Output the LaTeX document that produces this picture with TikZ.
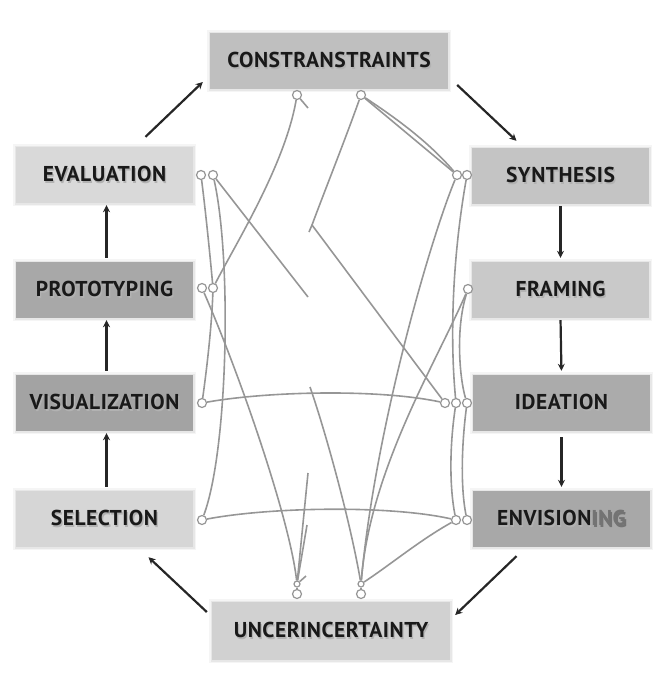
\documentclass[tikz,border=0pt]{standalone}
\usepackage{fontspec}
\setmainfont{PT Sans}
\usetikzlibrary{arrows.meta,backgrounds}
\definecolor{lnk}{HTML}{969696}
\newcommand\ghost[1]{\makebox[0pt][l]{\hspace{1.3pt}\raisebox{-1.3pt}{\color{black!30}#1}}#1}
\begin{document}
\begin{tikzpicture}[x=1pt,y=-1pt,
  box/.style={minimum height=56pt, inner sep=0pt,
    font=\fontsize{21.5}{24}\selectfont\bfseries\addfontfeature{LetterSpace=2.5}, text=black!90,
    preaction={draw=black, line width=6pt, opacity=.04},
    preaction={draw=black, line width=3pt, opacity=.06}},
  lbox/.style={box, minimum width=177pt},
  wbox/.style={box, minimum width=238pt},
  dot/.style={circle, draw=lnk, fill=white, line width=1.2pt, inner sep=0pt, minimum size=9pt},
  sdot/.style={dot, minimum size=6pt},
  lk/.style={draw=lnk, line width=1.6pt},
  arr/.style={draw=black!85, line width=2.2pt, -{Stealth[length=7pt,width=7pt]}}]
\useasboundingbox (0,0) rectangle (663,686);

% boxes
\node[wbox, fill=black!25] (Cons) at (329,61) {\ghost{CONSTRANSTRAINTS}};
\node[wbox, fill=black!18, minimum height=58pt] (Unc) at (331,631) {\ghost{UNCERINCERTAINTY}};
\node[lbox, fill=black!15] (Eval) at (104.5,175) {\ghost{EVALUATION}};
\node[lbox, fill=black!34] (Prot) at (104.5,290) {\ghost{PROTOTYPING}};
\node[lbox, fill=black!36] (Visu) at (104.5,403) {\ghost{VISUALIZATION}};
\node[lbox, fill=black!16] (Sele) at (104.5,519) {\ghost{SELECTION}};
\node[lbox, fill=black!23] (Synt) at (560.5,176) {\ghost{SYNTHESIS}};
\node[lbox, fill=black!21] (Fram) at (560.5,290) {\ghost{FRAMING}};
\node[lbox, fill=black!33] (Idea) at (561.5,403) {\ghost{IDEATION}};
\node[lbox, fill=black!34] (Envi) at (561.5,519) {\ghost{ENVISION\textcolor{black!55}{ING}}};

% black cycle arrows
\draw[arr] ([xshift=41pt,yshift=10pt]Eval.north) -- ([xshift=-7pt,yshift=-21pt]Cons.west);
\draw[arr] ([xshift=9pt,yshift=-24pt]Cons.east) -- ([xshift=-44pt,yshift=7pt]Synt.north);
\draw[arr, shorten <=2pt, shorten >=4pt] (Synt.south) -- (Fram.north);
\draw[arr, shorten <=2pt, shorten >=4pt] (Fram.south) -- (Idea.north);
\draw[arr, shorten <=6pt, shorten >=4pt] (Idea.south) -- (Envi.north);
\draw[arr] ([xshift=-45pt,yshift=-9pt]Envi.south) -- ([xshift=5pt,yshift=16pt]Unc.east);
\draw[arr] ([xshift=-5pt,yshift=19pt]Unc.west) -- ([xshift=44pt,yshift=-10pt]Sele.south);
\draw[arr, shorten <=4pt, shorten >=2pt] ([xshift=2pt]Sele.north) -- ([xshift=2pt]Visu.south);
\draw[arr, shorten <=4pt, shorten >=2pt] ([xshift=2pt]Visu.north) -- ([xshift=2pt]Prot.south);
\draw[arr, shorten <=4pt, shorten >=2pt] ([xshift=2pt]Prot.north) -- ([xshift=2pt]Eval.south);

% terminal circles
\node[dot] (Ct1) at (297,95) {};
\node[dot] (Ct2) at (361,95) {};
\node[dot] (Ev1) at (201,175) {};
\node[dot] (Ev2) at (213,175) {};
\node[dot] (Sy1) at (457,175) {};
\node[dot] (Sy2) at (467,175) {};
\node[dot] (Pr1) at (202,288) {};
\node[dot] (Pr2) at (213,288) {};
\node[dot] (Fr1) at (468,289) {};
\node[dot] (Vi1) at (202,403) {};
\node[dot] (Id1) at (445,403) {};
\node[dot] (Id2) at (456,403) {};
\node[dot] (Id3) at (467,403) {};
\node[dot] (Se1) at (202,520) {};
\node[dot] (En1) at (456,520) {};
\node[dot] (En2) at (467,520) {};
\node[sdot] (Ua1) at (297,584) {};
\node[dot] (Ub1) at (297,594) {};
\node[sdot] (Ua2) at (361,584) {};
\node[dot] (Ub2) at (361,594) {};

% free ends
\coordinate (s1) at (308,108);
\coordinate (V) at (312,225);
\coordinate (tk) at (309,232);
\coordinate (f1) at (308,297);
\coordinate (f2) at (310,387);
\coordinate (f3) at (308,473);
\coordinate (f4) at (307,525);
\coordinate (f5) at (306,576);

\begin{scope}[on background layer]
\draw[lk] (Ct1) -- (s1);
\draw[lk] (Ct1) .. controls (285,165) and (235,245) .. (Pr2);
\draw[lk] (Ct2) -- (Sy1);
\draw[lk] (Ct2) .. controls (405,124) and (432,146) .. (Sy1);
\draw[lk] (Ct2) .. controls (345,140) and (325,190) .. (V) -- (Id1);
\draw[lk] (V) -- (tk);
\draw[lk] (Ev2) -- (f1);
\draw[lk] (Ev1) .. controls (206,215) and (210,255) .. (Pr2);
\draw[lk] (Ev2) .. controls (232,260) and (228,450) .. (Se1);
\draw[lk] (Pr1) .. controls (240,375) and (290,520) .. (Ua1);
\draw[lk] (Vi1) .. controls (208,360) and (212,320) .. (Pr2);
\draw[lk] (Vi1) .. controls (270,391) and (380,389) .. (Id1);
\draw[lk] (Se1) .. controls (270,507) and (390,505) .. (En1);
\draw[lk] (f2) .. controls (325,430) and (350,520) .. (Ua2);
\draw[lk] (f3) -- (Ua1);
\draw[lk] (f4) -- (Ua1);
\draw[lk] (f5) -- (Ua1);
\draw[lk] (Sy1) .. controls (430,240) and (375,430) .. (Ua2);
\draw[lk] (Sy2) .. controls (452,260) and (450,340) .. (Id2);
\draw[lk] (Fr1) .. controls (435,365) and (370,470) .. (Ua2);
\draw[lk] (Fr1) .. controls (455,330) and (460,380) .. (Id3);
\draw[lk] (Id2) .. controls (449,450) and (450,490) .. (En1);
\draw[lk] (Id3) .. controls (461,450) and (461,490) .. (En2);
\draw[lk] (En1) .. controls (420,540) and (390,565) .. (Ua2);
\draw[lk] (Ua1) -- (Ub1);
\draw[lk] (Ua2) -- (Ub2);
\end{scope}
\end{tikzpicture}
\end{document}
